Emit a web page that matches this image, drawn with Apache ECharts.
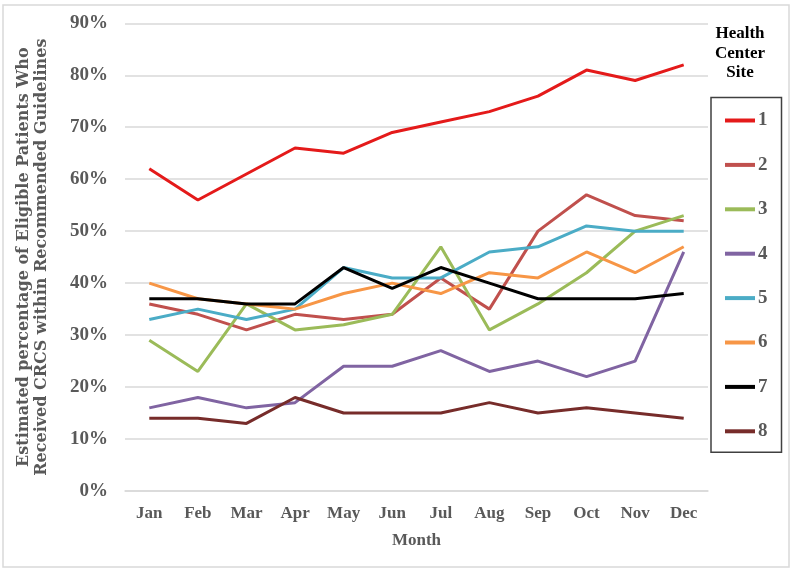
<!DOCTYPE html>
<html>
<head>
<meta charset="utf-8">
<script src="https://cdn.jsdelivr.net/npm/echarts@6/dist/echarts.min.js"></script>
<style>
html,body{margin:0;padding:0;background:#fff;}
#chart{width:794px;height:572px;}
</style>
</head>
<body>
<div id="chart"></div>
<script>
const months = ['Jan','Feb','Mar','Apr','May','Jun','Jul','Aug','Sep','Oct','Nov','Dec'];
const site1 = [62,56,61,66,65,69,71,73,76,81,79,82];
const site2 = [36,34,31,34,33,34,41,35,50,57,53,52];
const site3 = [29,23,36,31,32,34,47,31,36,42,50,53];
const site4 = [16,18,16,17,24,24,27,23,25,22,25,46];
const site5 = [33,35,33,35,43,41,41,46,47,51,50,50];
const site6 = [40,37,36,35,38,40,38,42,41,46,42,47];
const site7 = [37,37,36,36,43,39,43,40,37,37,37,38];
const site8 = [14,14,13,18,15,15,15,17,15,16,15,14];
const siteNames = ['1','2','3','4','5','6','7','8'];
const siteData = [site1,site2,site3,site4,site5,site6,site7,site8];
const colors = ['#E41A1A','#C0504D','#9BBB59','#8064A2','#4BACC6','#F79646','#000000','#772C2A'];

const FONT = '"Liberation Serif", "DejaVu Serif", serif';
const GREY = '#595959';

const chart = echarts.init(document.getElementById('chart'), null, {renderer:'canvas'});
chart.setOption({
  animation:false,
  backgroundColor:'#fff',
  textStyle:{fontFamily:FONT},
  color:colors,
  grid:{left:125, right:86, top:23.3, bottom:81, containLabel:false},
  graphic:[
    {type:'rect', shape:{x:3,y:5,width:786,height:562}, style:{fill:'none',stroke:'#D9D9D9',lineWidth:1.5}, silent:true, z:-10},
    {type:'text', x:740, y:24, style:{text:'Health\nCenter\nSite', fill:'#000', font:'bold 17px ' + FONT, textAlign:'center', lineHeight:19.5}}
  ],
  legend:{
    orient:'vertical',
    left:711, top:97.5,
    padding:[13,14,11,14],
    itemGap:24.4,
    itemWidth:30, itemHeight:4,
    icon:'rect',
    borderColor:'#404040', borderWidth:1.5,
    textStyle:{fontFamily:FONT, fontWeight:'bold', fontSize:19, color:GREY, lineHeight:20, padding:[0,0,0,-2]},
    data:siteNames
  },
  xAxis:{
    type:'category',
    data:months,
    boundaryGap:true,
    axisLine:{show:true, lineStyle:{color:'#D9D9D9', width:1.5}},
    axisTick:{show:false},
    axisLabel:{fontFamily:FONT, fontWeight:'bold', fontSize:17, color:GREY, margin:14},
    name:'Month',
    nameLocation:'middle',
    nameGap:41,
    nameTextStyle:{fontFamily:FONT, fontWeight:'bold', fontSize:17, color:GREY}
  },
  yAxis:{
    type:'value',
    min:0, max:90, interval:10,
    axisLine:{show:false},
    axisTick:{show:false},
    splitLine:{lineStyle:{color:'#D9D9D9', width:1.5}},
    axisLabel:{fontFamily:FONT, fontWeight:'bold', fontSize:19, color:GREY, margin:17, formatter:'{value}%'},
    name:'Estimated percentage of Eligible Patients Who\nReceived CRCS within Recommended Guidelines',
    nameLocation:'middle',
    nameGap:74,
    nameRotate:90,
    nameTextStyle:{fontFamily:'"DejaVu Serif", serif', fontWeight:'bold', fontSize:16, color:GREY, lineHeight:18}
  },
  series: siteData.map((d,i)=>({
    name:siteNames[i],
    type:'line',
    data:d,
    symbol:'none',
    lineStyle:{width:3, color:colors[i]},
    itemStyle:{color:colors[i]}
  }))
});
</script>
</body>
</html>
